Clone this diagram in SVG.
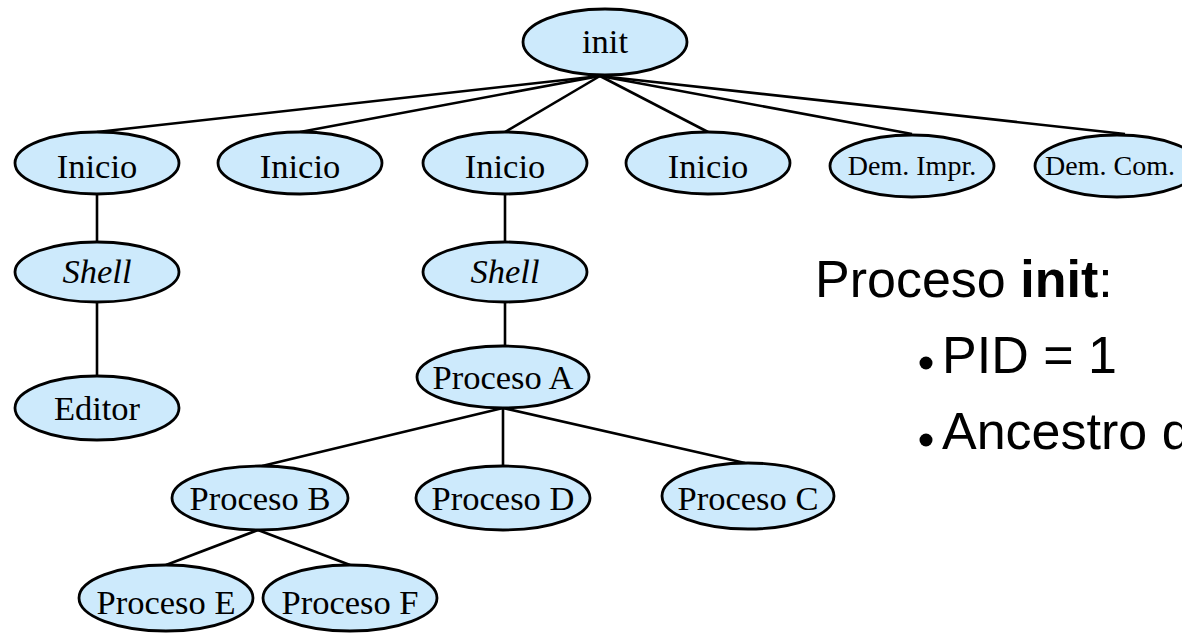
<svg xmlns="http://www.w3.org/2000/svg" width="1182" height="635" viewBox="0 0 1182 635">
<style>
.n{fill:#cdeafc;stroke:#000;stroke-width:2.8}
.t{font-family:"Liberation Serif","Times New Roman",serif;font-size:34.5px;text-anchor:middle;fill:#000}
.s{font-size:28px}
.i{font-style:italic}
.c line{stroke:#000;stroke-width:2.6}
.r{font-family:"Liberation Sans",Arial,sans-serif;font-size:52px;fill:#000}
</style>
<rect width="1182" height="635" fill="#fff"/>
<g id="connectors" class="c">
<line x1="600" y1="76" x2="97" y2="132"/>
<line x1="600" y1="76" x2="300" y2="132"/>
<line x1="600" y1="76" x2="505" y2="132"/>
<line x1="600" y1="76" x2="708" y2="132"/>
<line x1="600" y1="76" x2="912" y2="134"/>
<line x1="600" y1="76" x2="1125" y2="134"/>
<line x1="97" y1="193" x2="97" y2="243"/>
<line x1="97" y1="302" x2="97" y2="376"/>
<line x1="505" y1="193" x2="505" y2="243"/>
<line x1="505" y1="302" x2="505" y2="347"/>
<line x1="503" y1="408" x2="262" y2="466"/>
<line x1="503" y1="408" x2="503" y2="466"/>
<line x1="503" y1="408" x2="745" y2="463"/>
<line x1="258" y1="530" x2="166" y2="565"/>
<line x1="258" y1="530" x2="350" y2="565"/>
</g>
<g id="n-init"><ellipse class="n" cx="605" cy="42" rx="82" ry="33"/><text class="t" x="605" y="53">init</text></g>
<g id="n-inicio1"><ellipse class="n" cx="97" cy="163" rx="82" ry="31"/><text class="t" x="97" y="178">Inicio</text></g>
<g id="n-inicio2"><ellipse class="n" cx="300" cy="163" rx="82" ry="31"/><text class="t" x="300" y="178">Inicio</text></g>
<g id="n-inicio3"><ellipse class="n" cx="505" cy="163" rx="82" ry="31"/><text class="t" x="505" y="178">Inicio</text></g>
<g id="n-inicio4"><ellipse class="n" cx="708" cy="163" rx="82" ry="31"/><text class="t" x="708" y="178">Inicio</text></g>
<g id="n-demimpr"><ellipse class="n" cx="912" cy="166" rx="82" ry="31"/><text class="t s" x="912" y="175">Dem. Impr.</text></g>
<g id="n-demcom"><ellipse class="n" cx="1117" cy="166" rx="82" ry="31"/><text class="t s" x="1110" y="175">Dem. Com.</text></g>
<g id="n-shell1"><ellipse class="n" cx="97" cy="272" rx="82" ry="30"/><text class="t i" x="97" y="283">Shell</text></g>
<g id="n-shell2"><ellipse class="n" cx="505" cy="272" rx="82" ry="30"/><text class="t i" x="505" y="283">Shell</text></g>
<g id="n-editor"><ellipse class="n" cx="97" cy="408" rx="82" ry="32"/><text class="t" x="97" y="420">Editor</text></g>
<g id="n-procA"><ellipse class="n" cx="503" cy="377" rx="86" ry="31"/><text class="t" x="503" y="389">Proceso A</text></g>
<g id="n-procB"><ellipse class="n" cx="260" cy="498" rx="88" ry="32"/><text class="t" x="260" y="510">Proceso B</text></g>
<g id="n-procD"><ellipse class="n" cx="503" cy="498" rx="87" ry="32"/><text class="t" x="503" y="510">Proceso D</text></g>
<g id="n-procC"><ellipse class="n" cx="748" cy="496" rx="86" ry="33"/><text class="t" x="748" y="510">Proceso C</text></g>
<g id="n-procE"><ellipse class="n" cx="166" cy="598" rx="87" ry="33"/><text class="t" x="166" y="614">Proceso E</text></g>
<g id="n-procF"><ellipse class="n" cx="350" cy="598" rx="87" ry="33"/><text class="t" x="350" y="614">Proceso F</text></g>
<g id="notes">
<text class="r" x="815" y="297">Proceso <tspan font-weight="bold">init</tspan>:</text>
<circle cx="926" cy="363" r="6.5"/>
<text class="r" x="942" y="373">PID = 1</text>
<circle cx="926" cy="440" r="6.5"/>
<text class="r" x="942" y="449">Ancestro d</text>
</g>
</svg>
